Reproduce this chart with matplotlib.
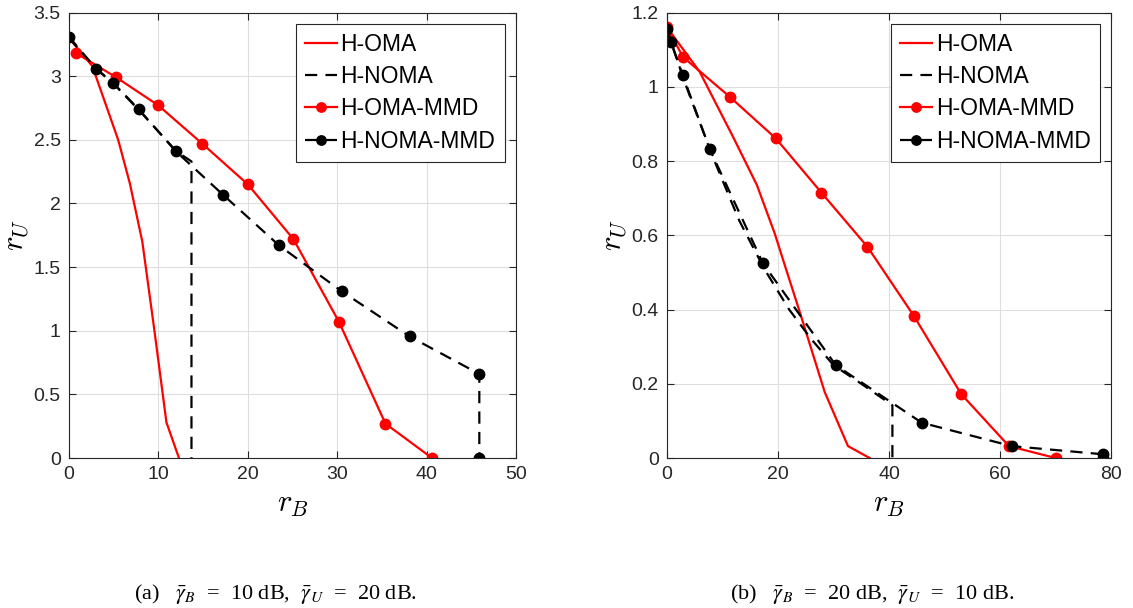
import numpy as np
import matplotlib
matplotlib.use("Agg")
import matplotlib.pyplot as plt

# ---- data ----
# (a) gamma_B = 10 dB, gamma_U = 20 dB
a_oma_x = [0, 2.6, 5.5, 6.8, 8.2, 9.5, 10.9, 12.3]
a_oma_y = [3.3, 3.08, 2.5, 2.16, 1.70, 1.03, 0.28, 0]
a_noma_x = [0, 3.0, 5.0, 8.0, 12.0, 13.7, 13.7]
a_noma_y = [3.3, 3.06, 2.94, 2.72, 2.41, 2.33, 0]
a_oma_mmd_x = [0.8, 5.3, 10.0, 14.9, 20.0, 25.1, 30.2, 35.4, 40.6]
a_oma_mmd_y = [3.18, 2.99, 2.77, 2.47, 2.15, 1.72, 1.07, 0.27, 0]
a_noma_mmd_x = [0, 3.0, 4.9, 7.8, 11.95, 17.2, 23.5, 30.5, 38.1, 45.9, 45.9]
a_noma_mmd_y = [3.31, 3.06, 2.95, 2.74, 2.41, 2.07, 1.67, 1.31, 0.955, 0.66, 0]

# (b) gamma_B = 20 dB, gamma_U = 10 dB
b_oma_x = [0, 5.9, 11.9, 16.2, 19.4, 21.5, 23.9, 28.4, 32.6, 36.5]
b_oma_y = [1.16, 1.04, 0.865, 0.735, 0.605, 0.506, 0.394, 0.178, 0.032, 0]
b_noma_x = [0, 1, 3, 8, 13, 17.5, 22, 26, 30, 35, 40.6, 40.6]
b_noma_y = [1.16, 1.11, 1.02, 0.82, 0.64, 0.51, 0.40, 0.32, 0.25, 0.20, 0.142, 0]
b_oma_mmd_x = [0, 2.9, 11.3, 19.6, 27.8, 36.1, 44.5, 53.0, 61.6, 70.0]
b_oma_mmd_y = [1.16, 1.08, 0.973, 0.861, 0.715, 0.569, 0.382, 0.172, 0.032, 0]
b_noma_mmd_x = [0, 0.7, 2.8, 7.7, 17.3, 30.4, 45.9, 62.1, 78.6, 78.6]
b_noma_mmd_y = [1.155, 1.12, 1.033, 0.832, 0.524, 0.25, 0.095, 0.032, 0.01, 0]

labels = ['H-OMA', 'H-NOMA', 'H-OMA-MMD', 'H-NOMA-MMD']

plt.rcParams['font.family'] = ['Liberation Sans', 'DejaVu Sans']

fig = plt.figure(figsize=(11.33, 6.08), dpi=100)
ax1 = fig.add_axes([0.0609, 0.2467, 0.3945, 0.7327])
ax2 = fig.add_axes([0.5887, 0.2467, 0.392, 0.7327])

dash = (5.5, 3.7)


def draw(ax, oma, noma, oma_mmd, noma_mmd):
    ax.plot(*oma, color='red', lw=1.6, label=labels[0])
    ax.plot(*noma, color='black', lw=1.6, ls='--', dashes=dash, label=labels[1])
    ax.plot(*oma_mmd, color='red', lw=1.6, marker='o', ms=7.5, label=labels[2])
    ax.plot(*noma_mmd, color='black', lw=1.6, ls='--', dashes=dash,
            marker='o', ms=7.5, label=labels[3])
    ax.grid(True, color='#dedede', lw=0.8)
    ax.set_axisbelow(True)
    for s in ax.spines.values():
        s.set_color('#262626')
        s.set_linewidth(0.8)
    ax.tick_params(direction='in', top=True, right=True, length=5,
                   labelsize=14, color='#262626', labelcolor='#262626', pad=6)
    ax.set_xlabel('$r_B$', fontsize=22, math_fontfamily='cm', labelpad=4)
    ax.set_ylabel('$r_U$', fontsize=22, math_fontfamily='cm', labelpad=2)
    leg = ax.legend(loc='upper right', fontsize=16.5, fancybox=False,
                    edgecolor='#262626', framealpha=1, borderaxespad=0.5,
                    handlelength=1.4, handletextpad=0.15, labelspacing=0.4,
                    borderpad=0.4, markerscale=0.9)
    leg.get_frame().set_linewidth(0.8)


def fmt(v):
    return ('%g' % v)


draw(ax1, (a_oma_x, a_oma_y), (a_noma_x, a_noma_y),
     (a_oma_mmd_x, a_oma_mmd_y), (a_noma_mmd_x, a_noma_mmd_y))
ax1.set_xlim(0, 50)
ax1.set_ylim(0, 3.5)
xt = np.arange(0, 51, 10)
yt = np.arange(0, 3.51, 0.5)
ax1.set_xticks(xt, [fmt(v) for v in xt])
ax1.set_yticks(yt, [fmt(v) for v in yt])

draw(ax2, (b_oma_x, b_oma_y), (b_noma_x, b_noma_y),
     (b_oma_mmd_x, b_oma_mmd_y), (b_noma_mmd_x, b_noma_mmd_y))
ax2.set_xlim(0, 80)
ax2.set_ylim(0, 1.2)
xt = np.arange(0, 81, 20)
yt = np.round(np.arange(0, 1.21, 0.2), 1)
ax2.set_xticks(xt, [fmt(v) for v in xt])
ax2.set_yticks(yt, [fmt(v) for v in yt])

cap_kw = dict(ha='center', va='baseline', fontsize=16,
              family='Liberation Serif', math_fontfamily='stix')
fig.text(0.2436, 0.014,
         r'(a)   $\bar{\gamma}_B$  =  10 dB,  $\bar{\gamma}_U$  =  20 dB.', **cap_kw)
fig.text(0.7696, 0.014,
         r'(b)   $\bar{\gamma}_B$  =  20 dB,  $\bar{\gamma}_U$  =  10 dB.', **cap_kw)

fig.savefig('out.png', dpi=100)
